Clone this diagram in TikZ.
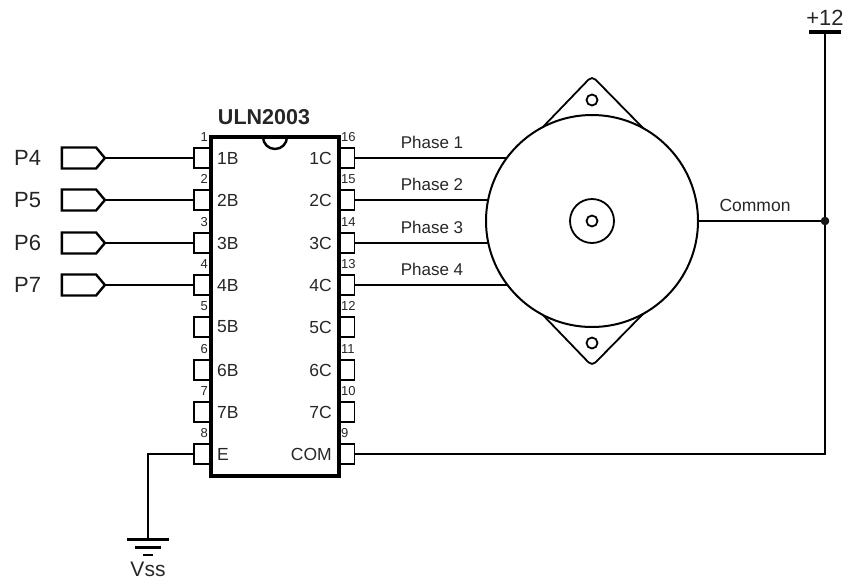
\documentclass[tikz,border=0pt]{standalone}
\usepackage{fontspec}
\setmainfont{Liberation Sans}
\usetikzlibrary{shapes.symbols,backgrounds}
\tikzset{
  txt/.style={inner sep=0pt,text=black!85,font=\fontsize{#1}{#1}\selectfont},
  pinbox/.style={draw,fill=white,line width=1.8pt,minimum width=16pt,minimum height=20pt,inner sep=0pt,outer sep=0pt},
  portbox/.style={draw,signal,signal to=east,signal pointer angle=100,line width=2.4pt,minimum width=43pt,minimum height=21pt,inner sep=0pt,outer sep=0pt},
  wire/.style={line width=2.3pt},
  thinwire/.style={line width=1.8pt},
  hole/.style={draw,circle,line width=1.8pt,inner sep=0pt,outer sep=0pt}
}
\begin{document}
\begin{tikzpicture}[x=1pt,y=-1pt]
  \useasboundingbox (0,0) rectangle (846,581);
  % pins
  \foreach \i/\yy/\b/\c/\n/\m in {1/158/1B/1C/1/16,2/200/2B/2C/2/15,3/243/3B/3C/3/14,4/285/4B/4C/4/13,
            5/327/5B/5C/5/12,6/370/6B/6C/6/11,7/412/7B/7C/7/10,8/454/E/COM/8/9}{
    \node[pinbox] (pinl\i) at (202,\yy) {};
    \node[pinbox] (pinr\i) at (346.5,\yy) {};
    \node[txt=17.5,anchor=west] (labl\i) at (217,\yy) {\b};
    \node[txt=17.5,anchor=east] (labr\i) at (332,\yy) {\c};
    \node[txt=13,anchor=east] (numl\i) at (208,\yy-21) {\n};
    \node[txt=13,anchor=west] (numr\i) at (341,\yy-21) {\m};
  }
  % chip
  \node[draw,line width=4pt,minimum width=128pt,minimum height=339pt,inner sep=0pt] (chip) at (275,306.5) {};
  \draw[line width=2.4pt] (263,137) arc (180:0:12);
  \node[txt=20,font=\fontsize{21.5}{21.5}\selectfont\bfseries] (chipname) at (264,117) {ULN2003};
  % ports
  \foreach \i/\yy/\t in {1/158/P4,2/200/P5,3/243/P6,4/285/P7}{
    \node[txt=22,anchor=west] (name\i) at (14,\yy) {\t};
    \node[portbox] (port\i) at (79,\yy) {};
    \draw[wire] (port\i.east) -- (pinl\i.west);
  }
  % motor
  \node[draw,circle,fill=white,line width=2pt,minimum size=212pt,inner sep=0pt,outer sep=0pt] (motor) at (592,221) {};
  \node[hole,minimum size=44pt] (shaft) at (motor.center) {};
  \node[hole,minimum size=11pt] (axle) at (motor.center) {};
  \node[hole,minimum size=11pt] (holetop) at (592,100) {};
  \node[hole,minimum size=11pt] (holebot) at (592,343) {};
  \begin{scope}[on background layer]
    \draw[thinwire,rounded corners=5pt] (540,130) -- (592,76) -- (645,130);
    \draw[thinwire,rounded corners=5pt] (540,312) -- (592,366) -- (645,312);
    \foreach \i in {1,...,4}
      \draw[wire] (pinr\i.east) -- (pinr\i.east -| motor.center);
  \end{scope}
  \foreach \i/\yy in {1/142,2/184,3/227,4/269}
    \node[txt=17] (phase\i) at (432,\yy) {Phase \i};
  % supply
  \coordinate (vcc) at (825,32);
  \coordinate (gnd) at (148,539);
  \node[draw,circle,fill=black!90,minimum size=8pt,inner sep=0pt] (junc) at (825,221) {};
  \node[txt=17.5] (common) at (755,205) {Common};
  \node[txt=22] (plus) at (825,18) {+12};
  \node[txt=21] (vss) at (148,569) {Vss};
  \draw[wire] (motor.east) -- (junc);
  \draw[wire] (pinr8.east) -| (junc) -- (vcc);
  \draw[wire] (pinl8.west) -| (gnd);
  \draw[line width=3.5pt] ([xshift=-16pt]vcc) -- ([xshift=16pt]vcc);
  \draw[line width=3pt] ([xshift=-21pt]gnd) -- ([xshift=21pt]gnd);
  \draw[line width=3pt] ([xshift=-13pt,yshift=-8pt]gnd) -- ([xshift=13pt,yshift=-8pt]gnd);
  \draw[line width=2.6pt] ([xshift=-5pt,yshift=-16pt]gnd) -- ([xshift=5pt,yshift=-16pt]gnd);
\end{tikzpicture}
\end{document}
